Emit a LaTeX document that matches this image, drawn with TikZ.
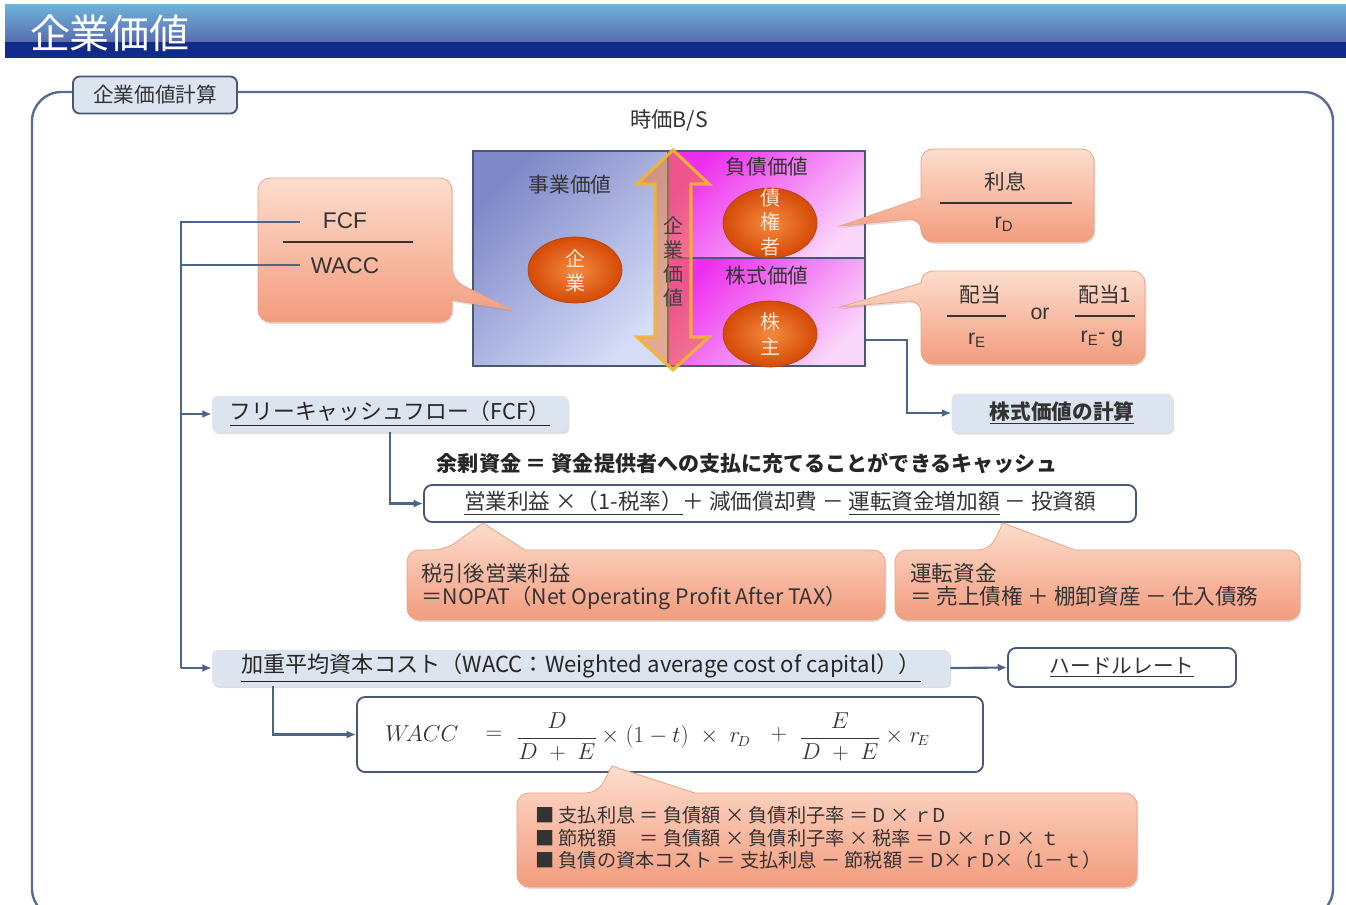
\documentclass[tikz,border=0pt]{standalone}
\usepackage{amsmath}
\usepackage{fontspec}
\setmainfont{Noto Sans CJK JP}
\newfontfamily\lat{Liberation Sans}
\usetikzlibrary{arrows.meta,shapes.geometric,shadows,calc}
\definecolor{hdrtop}{HTML}{6CB4DA}
\definecolor{hdrmid}{HTML}{5A6CB0}
\definecolor{hdrnavy}{HTML}{112B8A}
\definecolor{calltop}{HTML}{FDDDCD}
\definecolor{callbot}{HTML}{F39C7E}
\definecolor{calledge}{HTML}{E9A385}
\definecolor{lblfill}{HTML}{DCE4F0}
\definecolor{boxedge}{HTML}{4A5878}
\definecolor{connc}{HTML}{4A6588}
\definecolor{framec}{HTML}{5B6A94}
\definecolor{bsla}{HTML}{8088C8}
\definecolor{bslb}{HTML}{D6DDF8}
\definecolor{bsra}{HTML}{EE2EEE}
\definecolor{bsrb}{HTML}{FAD6FA}
\definecolor{ovin}{HTML}{F58A3E}
\definecolor{ovout}{HTML}{D44A06}
\definecolor{ovedge}{HTML}{B84008}
\definecolor{arrowf}{HTML}{F07A30}
\definecolor{arrowd}{HTML}{F2B52E}
\definecolor{txtc}{HTML}{333333}
\definecolor{ovtext}{HTML}{FDE6D6}
\newcommand\myfs[1]{\fontsize{#1pt}{#1pt}\selectfont}
\begin{document}
\begin{tikzpicture}[x=0.75pt,y=-0.75pt,
  conn/.style={draw=connc, line width=1.6pt},
  arr/.style={conn, -{Latex[length=7pt,width=6pt]}},
  shad/.style={drop shadow={shadow xshift=1pt, shadow yshift=-1.5pt, opacity=.25}},
  callout/.style={draw=calledge, line width=0.6pt, top color=calltop, bottom color=callbot, rounded corners=9pt, shad},
  sz/.style 2 args={minimum width=#1*0.75pt, minimum height=#2*0.75pt},
  lblbox/.style={fill=lblfill, rounded corners=4pt, inner sep=0pt, shad, text=txtc},
  wbox/.style={draw=boxedge, fill=white, line width=1.4pt, rounded corners=6pt, inner sep=0pt, text=txtc},
  txt/.style={text=txtc, inner sep=0pt},
  mth/.style={text=txtc, inner sep=0pt, font=\myfs{16}},
  oval/.style={ellipse, inner color=ovin, outer color=ovout, draw=ovedge, line width=0.5pt, inner sep=0pt, sz={94}{66}},
  ovt/.style={text=ovtext, inner sep=0pt, align=center, font=\fontsize{15pt}{18.4pt}\selectfont},
]
\useasboundingbox (0,0) rectangle (1346,904);
\clip (0,0) rectangle (1346,904);
\fill[white] (0,0) rectangle (1346,904);

% header
\shade[top color=hdrtop, bottom color=hdrmid] (5,4) rectangle (1346,42);
\fill[hdrnavy] (5,42) rectangle (1346,58);
\node[inner sep=0pt, text=white, font=\myfs{30}] (title) at (110,33) {企業価値};

% frame
\draw[framec, line width=1.8pt, rounded corners=22pt] (32,92) rectangle (1333,918);
\node[draw=boxedge, fill=lblfill, line width=1.4pt, rounded corners=5pt, inner sep=0pt, sz={164}{37}, text=txtc, font=\myfs{15.5}] (calc) at (155,95) {企業価値計算};

% B/S
\node[txt, font=\myfs{16}] (bstitle) at (669,120) {時価B/S};
\shade[top color=bsla, bottom color=bslb, shading angle=45] (473,151) rectangle (668,366);
\shade[top color=bsra, bottom color=bsrb, shading angle=45] (668,151) rectangle (865,258);
\shade[top color=bsra, bottom color=bsrb, shading angle=45] (668,258) rectangle (865,366);
\node[draw=boxedge, line width=1pt, inner sep=0pt, sz={392}{215}] (bs) at (669,258.5) {};
\draw[boxedge, line width=0.8pt] (668,151) -- (668,366);
\draw[boxedge, line width=0.8pt] (668,258) -- (865,258);
\node[txt, font=\myfs{15.5}] (jigyo) at (570,185) {事業価値};
\node[txt, font=\myfs{15.5}] (fusai) at (767,167) {負債価値};
\node[txt, font=\myfs{15.5}] (kabushiki) at (767,276) {株式価値};
\node[oval] (ov1) at (575,270) {};
\node[ovt] (ov1t) at (575,271) {企\\業};
\node[oval, sz={94}{70}] (ov2) at (770,223) {};
\node[ovt] (ov2t) at (770,222) {債\\権\\者};
\node[oval] (ov3) at (770,334) {};
\node[ovt] (ov3t) at (770,334) {株\\主};
% double arrow
\filldraw[draw=arrowd, line width=2.4pt, fill=arrowf, fill opacity=0.5, draw opacity=0.9, line join=miter]
  (673,150) -- (709,184) -- (691,184) -- (691,337) -- (709,337) -- (673,370) -- (637,337) -- (655,337) -- (655,184) -- (637,184) -- cycle;
\node[txt, align=center, font=\fontsize{15pt}{18pt}\selectfont, text=black!75] (kigyokachi) at (673,262) {企\\業\\価\\値};

% FCF callout
\path[callout] (258,250) -- (258,178) -- (452,178) -- (452,280) [sharp corners] -- (512,310) -- (452,300) [rounded corners=9pt] -- (452,322) -- (258,322) -- cycle;
\node[txt, font=\lat\myfs{17}] (fcfn) at (345,221) {FCF};
\draw[txtc, line width=1pt] (283,242) -- (413,242);
\node[txt, font=\lat\myfs{17}] (waccn) at (345,266) {WACC};

% right callouts
\path[callout] (1000,149) -- (1094,149) -- (1094,242) -- (921,242) -- (921,218) [sharp corners] -- (840,226) -- (921,198) [rounded corners=9pt] -- (921,149) -- cycle;
\node[txt, font=\myfs{15.5}] (rishi) at (1005,182) {利息};
\draw[txtc, line width=1pt] (940,203) -- (1072,203);
\node[txt, font=\lat\myfs{16}] (rd) at (1004,224) {r\textsubscript{D}};

\path[callout] (1000,271) -- (1145,271) -- (1145,364) -- (921,364) -- (921,300) [sharp corners] -- (840,307) -- (921,283) [rounded corners=9pt] -- (921,271) -- cycle;
\node[txt, font=\myfs{15.5}] (haito) at (980,295) {配当};
\draw[txtc, line width=1pt] (947,316) -- (1006,316);
\node[txt, font=\lat\myfs{16}] (re) at (977,340) {r\textsubscript{E}};
\node[txt, font=\lat\myfs{16}] (orr) at (1040,314) {or};
\node[txt, font=\myfs{15.5}] (haito1) at (1105,295) {配当1};
\draw[txtc, line width=1pt] (1075,316) -- (1135,316);
\node[txt, font=\lat\myfs{16}] (reg) at (1102,339) {r\textsubscript{E}\raisebox{2pt}{-} g};

% share value calc
\node[lblbox, sz={221}{39}, font=\bfseries\myfs{15.5}] (kabu) at (1062,413) {\underline{株式価値の計算}};
\draw[arr] ($(bs.east)+(0,81.5)$) -- (907,340) |- (kabu.west);

% FCF branch
\coordinate (ff) at (300,222);
\coordinate (fw) at (300,265);
\coordinate (trunktop) at (181,222);
\coordinate (trunkbot) at (181,668);
\node[lblbox, sz={356}{36}, font=\myfs{16.3}, text=black!85] (fcflbl) at (390,414) {\underline{フリーキャッシュフロー（FCF）}};
\draw[conn] (ff) -- (trunktop) -- (trunkbot);
\draw[conn] (fw) -- (181,265);
\draw[arr] (181,414) -- (fcflbl.west);

\node[txt, font=\bfseries\myfs{15.8}, text=black!85] (yojo) at (747,463) {余剰資金 ＝ 資金提供者への支払に充てることができるキャッシュ};
\node[wbox, sz={712}{37}, font=\myfs{16.2}] (fbox) at (780,503.5) {\underline{営業利益 ×（1-税率）}＋ 減価償却費 － \underline{運転資金増加額} － 投資額};
\draw[arr] (fcflbl.south) |- (fbox.west);

% NOPAT callouts
\path[callout] (407,585) -- (407,550) -- (445,550) [sharp corners] -- (483,523) -- (525,550) [rounded corners=9pt] -- (885,550) -- (885,620) -- (407,620) -- cycle;
\node[txt, anchor=west, align=left, font=\fontsize{16pt}{17.5pt}\selectfont] (nopat) at (421,587) {税引後営業利益\\＝NOPAT（Net Operating Profit After TAX）};
\path[callout] (895,585) -- (895,550) -- (990,550) [sharp corners] -- (1003,523) -- (1075,550) [rounded corners=9pt] -- (1300,550) -- (1300,620) -- (895,620) -- cycle;
\node[txt, anchor=west, align=left, font=\fontsize{16.2pt}{17.5pt}\selectfont] (unten) at (910,585) {運転資金\\＝ 売上債権 ＋ 棚卸資産 － 仕入債務};

% WACC branch
\node[lblbox, sz={738}{36}, font=\myfs{16.6}, text=black!85] (walbl) at (581,668) {\underline{加重平均資本コスト（WACC：Weighted average cost of capital））}};
\draw[arr] (trunkbot) -- (walbl.west);
\node[wbox, sz={228}{39}, font=\myfs{15.5}] (hurdle) at (1122,667.5) {\underline{ハードルレート}};
\draw[arr] (walbl.east) -- (hurdle.west);
\node[wbox, sz={626}{75}] (wform) at (670,734.5) {};
\node[mth, anchor=west] (fw1) at (385,734) {$W\!ACC$};
\node[mth] (fw2) at (494,735) {$=$};
\node[mth] (fw3) at (557,737) {$\dfrac{D}{D\;+\;E}$};
\node[mth, anchor=west] (fw4) at (601,737) {$\times\;(1-t)\;\times\;r_{\!D}$};
\node[mth] (fw5) at (779,735) {$+$};
\node[mth] (fw6) at (840,737) {$\dfrac{E}{D\;+\;E}$};
\node[mth, anchor=west] (fw7) at (885,737) {$\times\;r_{\!E}$};
\draw[arr] ($(walbl.south west)+(61,0)$) |- (wform.west);

% bottom callout
\path[callout] (517,840) -- (517,793) -- (598,793) [sharp corners] -- (612,766) -- (695,793) [rounded corners=9pt] -- (1137,793) -- (1137,887) -- (517,887) -- cycle;
\node[txt, anchor=west, align=left, font=\fontsize{14.4pt}{17pt}\selectfont] (cost) at (535,838) {■ 支払利息 ＝ 負債額 × 負債利子率 ＝ D × ｒD\\■ 節税額　 ＝ 負債額 × 負債利子率 × 税率 ＝ D × ｒD × ｔ\\■ 負債の資本コスト ＝ 支払利息 － 節税額 ＝ D×ｒD×（1－ｔ）};
\end{tikzpicture}
\end{document}
